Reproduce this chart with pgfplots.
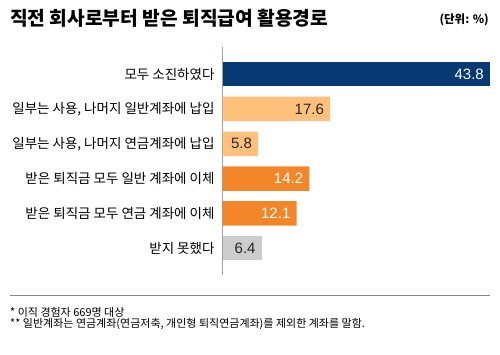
\documentclass[border=0pt]{standalone}
\usepackage{fontspec}
\setmainfont{Noto Sans CJK KR}
\newfontfamily\numfont{Liberation Sans}
\usepackage{pgfplots}
\pgfplotsset{compat=1.18}
\definecolor{navy}{HTML}{073A72}
\definecolor{lorange}{HTML}{FFC07C}
\definecolor{dorange}{HTML}{F4862A}
\definecolor{lgray}{HTML}{CCCCCC}
\definecolor{axgray}{HTML}{A0A0A0}
\definecolor{sepgray}{HTML}{888888}
\begin{document}
\begin{tikzpicture}[x=1pt,y=1pt]
\path[use as bounding box] (0,0) rectangle (500,355);
\node[anchor=west, font=\fontsize{19.2}{21}\selectfont\bfseries, inner sep=0] at (10,336.5) {직전 회사로부터 받은 퇴직급여 활용경로};
\node[anchor=east, font=\fontsize{11.5}{13}\selectfont\bfseries, inner sep=0] at (489,335) {(단위: \%)};
\begin{axis}[at={(222.7pt,80pt)}, anchor=south west, scale only axis,
  width=267.3pt, height=228pt, xmin=0, xmax=43.8, ymin=-0.78, ymax=5.77,
  y dir=reverse, hide x axis, axis y line*=left,
  y axis line style={-, draw=axgray, line width=1.5pt},
  ytick={0,1,2,3,4,5}, major tick length=0pt,
  yticklabels={모두 소진하였다, {일부는 사용, 나머지 일반계좌에 납입}, {일부는 사용, 나머지 연금계좌에 납입}, 받은 퇴직금 모두 일반 계좌에 이체, 받은 퇴직금 모두 연금 계좌에 이체, 받지 못했다},
  yticklabel style={font=\fontsize{13.5}{15}\selectfont, anchor=east, inner sep=0pt, xshift=-8pt},
  xbar, bar width=24.5pt, bar shift=0pt, clip=false,
  nodes near coords,
  nodes near coords style={anchor=east, inner sep=0pt, xshift=-6pt, font=\numfont\fontsize{15}{15}\selectfont},
  point meta=explicit symbolic]
\addplot[fill=navy, draw=none, nodes near coords style={text=white}] coordinates {(43.8,0) [43.8]};
\addplot[fill=lorange, draw=none, nodes near coords style={text=black!85}] coordinates {(17.6,1) [17.6] (5.8,2) [5.8]};
\addplot[fill=dorange, draw=none, nodes near coords style={text=white}] coordinates {(14.2,3) [14.2] (12.1,4) [12.1]};
\addplot[fill=lgray, draw=none, nodes near coords style={text=black!85}] coordinates {(6.4,5) [6.4]};
\end{axis}
\draw[sepgray, line width=0.8pt] (10,60) -- (490,60);
\node[anchor=west, font=\fontsize{11}{12}\selectfont, inner sep=0] at (10,42.5) {* 이직 경험자 669명 대상};
\node[anchor=west, font=\fontsize{11}{12}\selectfont, inner sep=0] at (10,31.5) {** 일반계좌는 연금계좌(연금저축, 개인형 퇴직연금계좌)를 제외한 계좌를 말함.};
\end{tikzpicture}
\end{document}
